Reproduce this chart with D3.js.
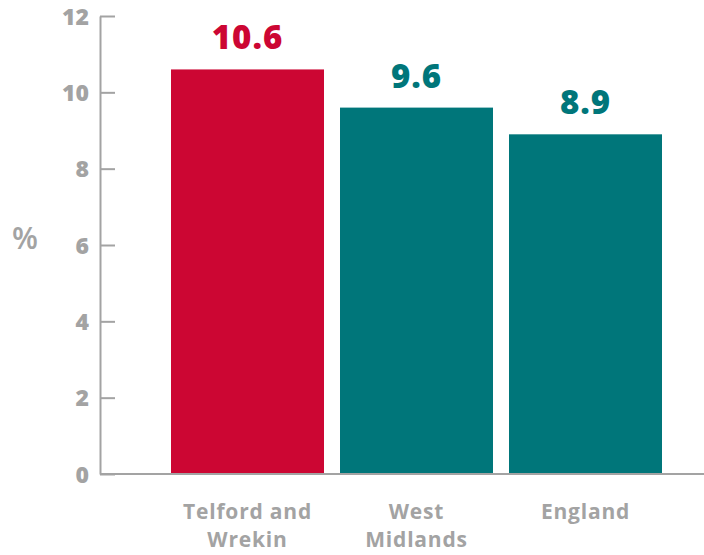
<!DOCTYPE html>
<html><head><meta charset="utf-8">
<script src="https://cdn.jsdelivr.net/npm/d3@7"></script>
<style>body{margin:0;background:#fff;}svg{display:block;font-family:"Open Sans",sans-serif;}</style>
</head><body>
<svg id="c" width="704" height="555"></svg>
<script>
const categories = [["Telford and","Wrekin"],["West","Midlands"],["England"]];
const values = [10.6, 9.6, 8.9];
const colors = ["#CC0633","#00767A","#00767A"];
const yTicks = [0,2,4,6,8,10,12];

const svg = d3.select("#c");
const gray = "#A3A3A3";
const y = d3.scaleLinear().domain([0,12]).range([474,16]);
const x = d3.scaleBand().domain(d3.range(values.length)).range([163,670]).paddingInner(16/169).paddingOuter(8/169);

const ya = svg.append("g").attr("transform","translate(100,0)")
  .call(d3.axisLeft(y).tickValues(yTicks).tickSizeInner(-15).tickSizeOuter(0).tickPadding(11).tickFormat(d3.format("d")));
ya.select(".domain").attr("stroke",gray).attr("stroke-width",2);
ya.selectAll(".tick line").attr("stroke",gray).attr("stroke-width",2);
ya.selectAll(".tick text").attr("fill",gray).attr("font-size",23).attr("font-weight",800).attr("dy","0.36em").attr("font-family","'Open Sans',sans-serif");

svg.selectAll("rect.bar").data(values).join("rect").attr("class","bar")
  .attr("x",(d,i)=>x(i)).attr("width",x.bandwidth())
  .attr("y",d=>y(d)).attr("height",d=>y(0)-y(d)).attr("fill",(d,i)=>colors[i]);

svg.append("line").attr("x1",100).attr("x2",704).attr("y1",y(0)).attr("y2",y(0)).attr("stroke",gray).attr("stroke-width",2);

svg.selectAll("text.val").data(values).join("text").attr("class","val")
  .attr("x",(d,i)=>x(i)+x.bandwidth()/2).attr("y",d=>y(d)-20)
  .attr("text-anchor","middle").attr("fill",(d,i)=>colors[i])
  .attr("font-size",33).attr("font-weight",800).attr("letter-spacing",1).text(d=>d3.format(".1f")(d));

const cl = svg.selectAll("text.cat").data(categories).join("text").attr("class","cat")
  .attr("x",(d,i)=>x(i)+x.bandwidth()/2).attr("y",519)
  .attr("text-anchor","middle").attr("fill",gray).attr("font-size",21).attr("font-weight",700).attr("letter-spacing",0.8);
cl.selectAll("tspan").data(d=>d).join("tspan")
  .attr("x",function(){return this.parentNode.getAttribute("x");})
  .attr("dy",(d,i)=>i===0?0:28).text(d=>d);

svg.append("text").attr("x",25).attr("y",249).attr("text-anchor","middle").attr("fill",gray)
  .attr("font-size",30).attr("font-weight",600).text("%");
</script>
</body></html>
